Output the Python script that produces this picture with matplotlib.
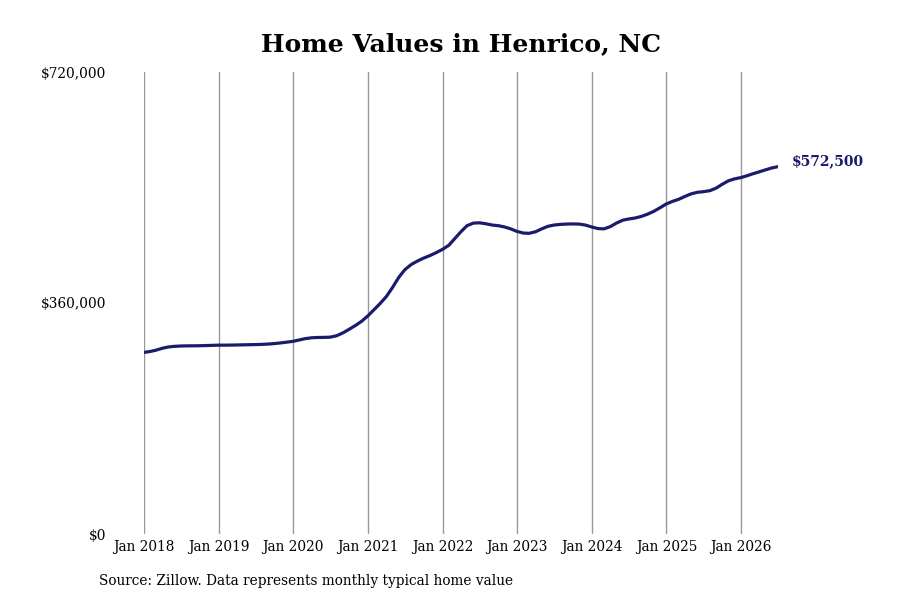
import numpy as np
import pandas as pd
import matplotlib
matplotlib.use("Agg")
import matplotlib.pyplot as plt

# monthly typical home value, Jan 2018 .. Jul 2026
values = [
    283000, 284500, 286500, 289500, 291500, 292500, 293000, 293200, 293300, 293400, 293700, 294000,
    294300, 294300, 294400, 294600, 294800, 295000, 295200, 295500, 296000, 296800, 297800, 299000,
    300300, 302500, 304500, 305800, 306300, 306400, 306800, 309000, 313500, 319000, 325000, 331500,
    340000, 350000, 359000, 370000, 384000, 400000, 412000, 420000, 425500, 430000, 434000, 438500,
    443600, 450000, 460000, 471000, 480500, 484500, 485000, 483500, 481500, 480500, 478500, 475500,
    471500, 469000, 468600, 471000, 475500, 479500, 481500, 482500, 483000, 483200, 483000, 481500,
    478500, 476000, 475500, 479000, 484500, 489000, 491000, 492500, 495000, 498500, 503000, 508500,
    514500, 518500, 521500, 526000, 530000, 532500, 533500, 535000, 539000, 545000, 550500, 553500,
    555500, 558500, 561500, 564500, 567500, 570500, 572500,
]
dates = pd.date_range("2018-01-01", periods=len(values), freq="MS")
tick_dates = pd.date_range("2018-01-01", "2026-01-01", freq="YS")
tick_labels = [d.strftime("Jan %Y") for d in tick_dates]
y_ticks = [0, 360000, 720000]
y_labels = ["$0", "$360,000", "$720,000"]
end_label = "$572,500"

serif = {"family": "DejaVu Serif", "stretch": "condensed"}
navy = "#1b1b6b"

fig = plt.figure(figsize=(9, 6), dpi=100)
ax = fig.add_axes([144 / 900, 1 - 534 / 600, (778 - 144) / 900, (534 - 72) / 600])

ax.plot(dates, values, color=navy, linewidth=2.3, solid_capstyle="round")
ax.set_xlim(dates[0], dates[-1])
ax.set_ylim(0, 720000)

ax.set_xticks(tick_dates)
ax.set_xticklabels(tick_labels, fontsize=11, **serif)
ax.set_yticks(y_ticks)
ax.set_yticklabels(y_labels, fontsize=11, **serif)
ax.tick_params(axis="x", length=0, pad=4)
ax.tick_params(axis="y", length=0, pad=27)
ax.xaxis.grid(True, color="#999999", linewidth=1)
ax.set_axisbelow(True)
for s in ax.spines.values():
    s.set_visible(False)

ax.annotate(end_label, xy=(dates[-1], values[-1]), xytext=(10, 4), textcoords="offset points",
            fontsize=10, fontweight="bold", color=navy, family="DejaVu Serif",
            ha="left", va="center")

fig.text(461 / 900, 1 - 44 / 600, "Home Values in Henrico, NC", ha="center", va="center",
         fontsize=18, fontweight="bold", family="DejaVu Serif")
fig.text(99 / 900, 1 - 581 / 600, "Source: Zillow. Data represents monthly typical home value",
         ha="left", va="center", fontsize=11, **serif)

fig.savefig("out.png", dpi=100)
